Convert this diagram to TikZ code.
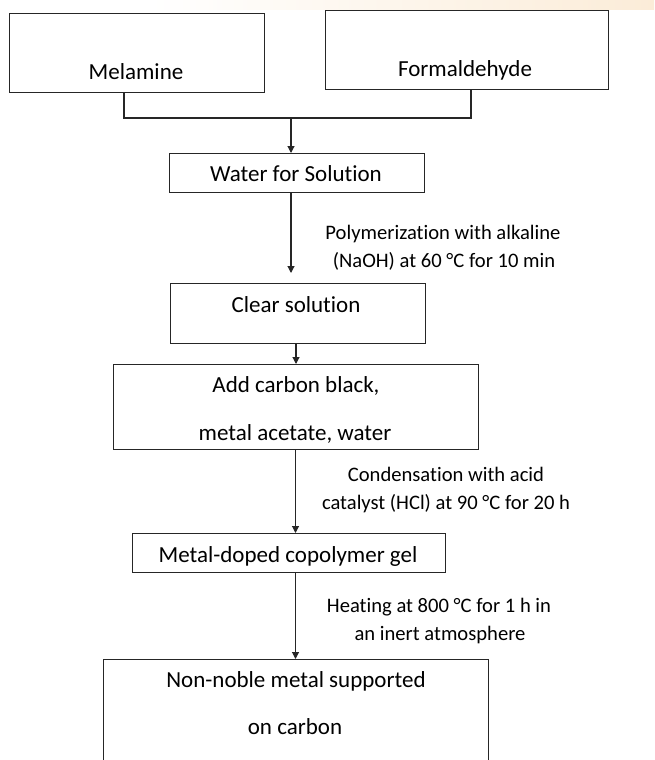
\documentclass[tikz,border=0pt]{standalone}
\usepackage{fontspec}
\setmainfont{Carlito}[Ligatures={NoCommon}]
\usetikzlibrary{arrows.meta}
\begin{document}
\begin{tikzpicture}[x=1pt,y=-1pt,
  box/.style={draw=black!85,line width=1pt,inner sep=0pt,outer sep=0pt},
  boxtext/.style={anchor=base,inner sep=0pt,font=\fontsize{23}{28}\selectfont},
  lbltext/.style={anchor=base,inner sep=0pt,font=\fontsize{20.6}{26}\selectfont},
  conn/.style={draw=black!85,line width=1.1pt},
  arr/.style={conn,-{Triangle[length=7pt,width=7pt]}}]
\useasboundingbox (0,0) rectangle (654,760);
\clip (0,0) rectangle (654,760);
% faint watermark band at the top
\shade[left color=white,right color={rgb,255:red,251;green,236;blue,216}] (150,0) rectangle (654,10);
% boxes
\node[box,minimum width=255pt,minimum height=78pt] (mel) at (136.5,53) {};
\node[box,minimum width=283pt,minimum height=78pt] (form) at (466.5,50) {};
\node[box,minimum width=255pt,minimum height=39pt] (water) at (296.5,172.5) {};
\node[box,minimum width=255pt,minimum height=60pt] (clear) at (297.5,313) {};
\node[box,minimum width=365pt,minimum height=85pt] (add) at (295.5,406.5) {};
\node[box,minimum width=313pt,minimum height=39pt] (metal) at (288.5,552.5) {};
\node[box,minimum width=385pt,minimum height=140pt] (nn) at (295.5,729) {};
% box texts
\node[boxtext] (tmel) at (136,80) {Melamine};
\node[boxtext] (tform) at (465,77) {Formaldehyde};
\node[boxtext] (twater) at (296,181) {Water for Solution};
\node[boxtext] (tclear) at (296,312) {Clear solution};
\node[boxtext] (tadda) at (296,392) {Add carbon black,};
\node[boxtext] (taddb) at (295,440) {metal acetate, water};
\node[boxtext] (tmetal) at (288,562) {Metal-doped copolymer gel};
\node[boxtext] (tnna) at (296,687) {Non-noble metal supported};
\node[boxtext] (tnnb) at (295,734) {on carbon};
% labels
\node[lbltext] (l1a) at (443,239) {Polymerization with alkaline};
\node[lbltext] (l1b) at (444,267) {(NaOH) at 60 °C for 10 min};
\node[lbltext] (l2a) at (446,481) {Condensation with acid};
\node[lbltext] (l2b) at (446,509) {catalyst (HCl) at 90 °C for 20 h};
\node[lbltext] (l3a) at (439,612) {Heating at 800 °C for 1 h in};
\node[lbltext] (l3b) at (440,640) {an inert atmosphere};
% connectors
\coordinate (jl) at (124,118);
\coordinate (jr) at (471,118);
\coordinate (jm) at (291,118);
\coordinate (wend) at (291,273);
\draw[conn] (mel.south -| jl) -- (jl) -- (jr) -- (form.south -| jr);
\draw[arr] (jm) -- (jm |- water.north);
\draw[arr] (water.south -| wend) -- (wend);
\draw[arr] (clear.south -| tclear) -- (add.north -| tclear);
\draw[arr] (add.south) -- (add.south |- metal.north);
\draw[arr] (metal.south -| nn.north) -- (nn.north);
\end{tikzpicture}
\end{document}
